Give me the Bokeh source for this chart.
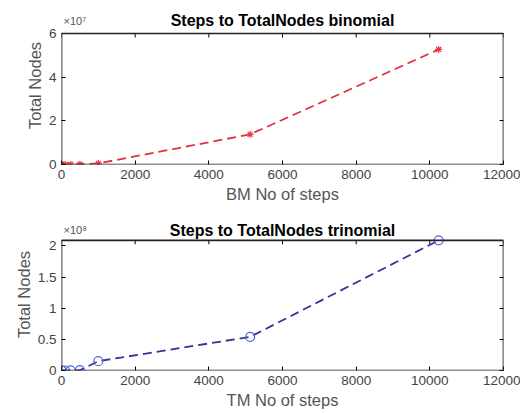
from bokeh.plotting import figure
from bokeh.layouts import column
from bokeh.models import (LinearAxis, FixedTicker, CustomJSTickFormatter, Range1d,
                          BoxAnnotation, Title, ColumnDataSource)
from bokeh.core.properties import value
from bokeh.embed import file_html
from bokeh.resources import INLINE

# ---- data ----
bm_steps = [1, 10, 100, 250, 500, 1000, 5120, 10240]
bm_nodes = [0, 0, 5.0e3, 3.2e4, 1.3e5, 5.0e5, 1.38e7, 5.27e7]

tm_steps = [1, 10, 100, 250, 500, 1000, 5120, 10240]
tm_nodes = [0, 0, 2.0e4, 1.3e5, 5.0e5, 1.5e7, 5.4e7, 2.09e8]

x_ticks = [0, 2000, 4000, 6000, 8000, 10000, 12000]
bm_yticks = [0, 2e7, 4e7, 6e7]
tm_yticks = [0, 0.5e8, 1e8, 1.5e8, 2e8]

x_max = 12000
bm_ymax = 6e7
tm_ymax = 2.09e8

FONT = "Liberation Sans"


def make_plot(height, border_top, border_bottom, box_px, ymax, yticks, scale,
              title, xlabel, ylabel, exp_text, title_off, ylabel_off):
    frame_h = height - border_top - border_bottom
    y_end = ymax * frame_h / box_px
    p = figure(width=520, height=height, output_backend="svg", toolbar_location=None,
               x_range=Range1d(0, x_max), y_range=Range1d(0, y_end),
               min_border_left=61, min_border_right=17, min_border_top=border_top,
               min_border_bottom=border_bottom)
    p.outline_line_color = None
    p.xgrid.visible = False
    p.ygrid.visible = False
    xt = FixedTicker(ticks=x_ticks)
    yt = FixedTicker(ticks=yticks)
    fmt = CustomJSTickFormatter(code="return String(Math.round(tick / %g * 100) / 100);" % scale)
    blank = CustomJSTickFormatter(code="return '';")
    for ax in p.xaxis:
        ax.ticker = xt
    for ax in p.yaxis:
        ax.ticker = yt
        ax.formatter = fmt
    for ax in list(p.xaxis) + list(p.yaxis):
        ax.axis_line_color = None
        ax.major_tick_in = 4
        ax.major_tick_out = 0
        ax.minor_tick_line_color = None
        ax.major_tick_line_color = "black"
        ax.major_label_text_font = FONT
        ax.major_label_text_font_size = "13.5px"
        ax.major_label_text_color = "#444444"
        ax.axis_label_text_font = FONT
        ax.axis_label_text_font_size = "16.5px"
        ax.axis_label_text_font_style = "normal"
        ax.axis_label_text_color = "#555555"
        ax.major_label_standoff = 5
        ax.axis_label_standoff = 3
    p.xaxis.axis_label = xlabel
    right = LinearAxis(ticker=yt, formatter=blank, major_tick_in=4,
                       major_tick_out=0, minor_tick_line_color=None, axis_line_color=None,
                       major_label_standoff=0)
    p.add_layout(right, "right")
    p.add_layout(Title(text=ylabel, align="center", offset=ylabel_off, standoff=4,
                       text_font=FONT, text_font_size="16.5px", text_font_style="normal",
                       text_color="#555555"), "left")
    # box (MATLAB "box on")
    p.add_layout(BoxAnnotation(left=0, right=x_max, bottom=0, top=ymax, fill_alpha=0,
                               line_color="#222222", line_alpha=1.0, line_width=1.7))
    # top ticks, inside the box
    d = 4 * y_end / frame_h
    p.segment(x0=x_ticks, y0=[ymax] * len(x_ticks), x1=x_ticks,
              y1=[ymax - d] * len(x_ticks), line_color="black", line_width=1)
    # title and exponent
    p.text(x=[x_max / 2], y=[ymax], text=[title], y_offset=title_off,
           text_align="center", text_baseline="alphabetic",
           text_font=value(FONT), text_font_size="16px", text_font_style="bold",
           text_color="black")
    p.text(x=[0], y=[ymax], text=[exp_text], x_offset=2, y_offset=title_off,
           text_align="left", text_baseline="alphabetic",
           text_font=value(FONT), text_font_size="11px", text_color="#555555")
    return p


p1 = make_plot(208, 6, 44, 131, bm_ymax, bm_yticks, 1e7,
               "Steps to TotalNodes binomial", "BM No of steps", "Total Nodes", "×10⁷",
               -13, -10)
src1 = ColumnDataSource(dict(x=bm_steps, y=bm_nodes))
p1.line("x", "y", source=src1, line_color="#e0303f", line_width=1.8, line_dash="9 5")
p1.scatter("x", "y", source=src1, marker="asterisk", size=7, line_color="#ee3344",
           line_width=1.2)

p2 = make_plot(203, 10, 38, 132.7, tm_ymax, tm_yticks, 1e8,
               "Steps to TotalNodes trinomial", "TM No of steps", "Total Nodes", "×10⁸",
               -10, -9)
src2 = ColumnDataSource(dict(x=tm_steps, y=tm_nodes))
p2.line("x", "y", source=src2, line_color="#33339a", line_width=1.8, line_dash="9 5")
p2.scatter("x", "y", source=src2, marker="circle", size=9, fill_color=None,
           line_color="#5566dd", line_width=1.2)

layout = column(p1, p2, spacing=0)
open("out.html", "w").write(file_html(layout, INLINE))
